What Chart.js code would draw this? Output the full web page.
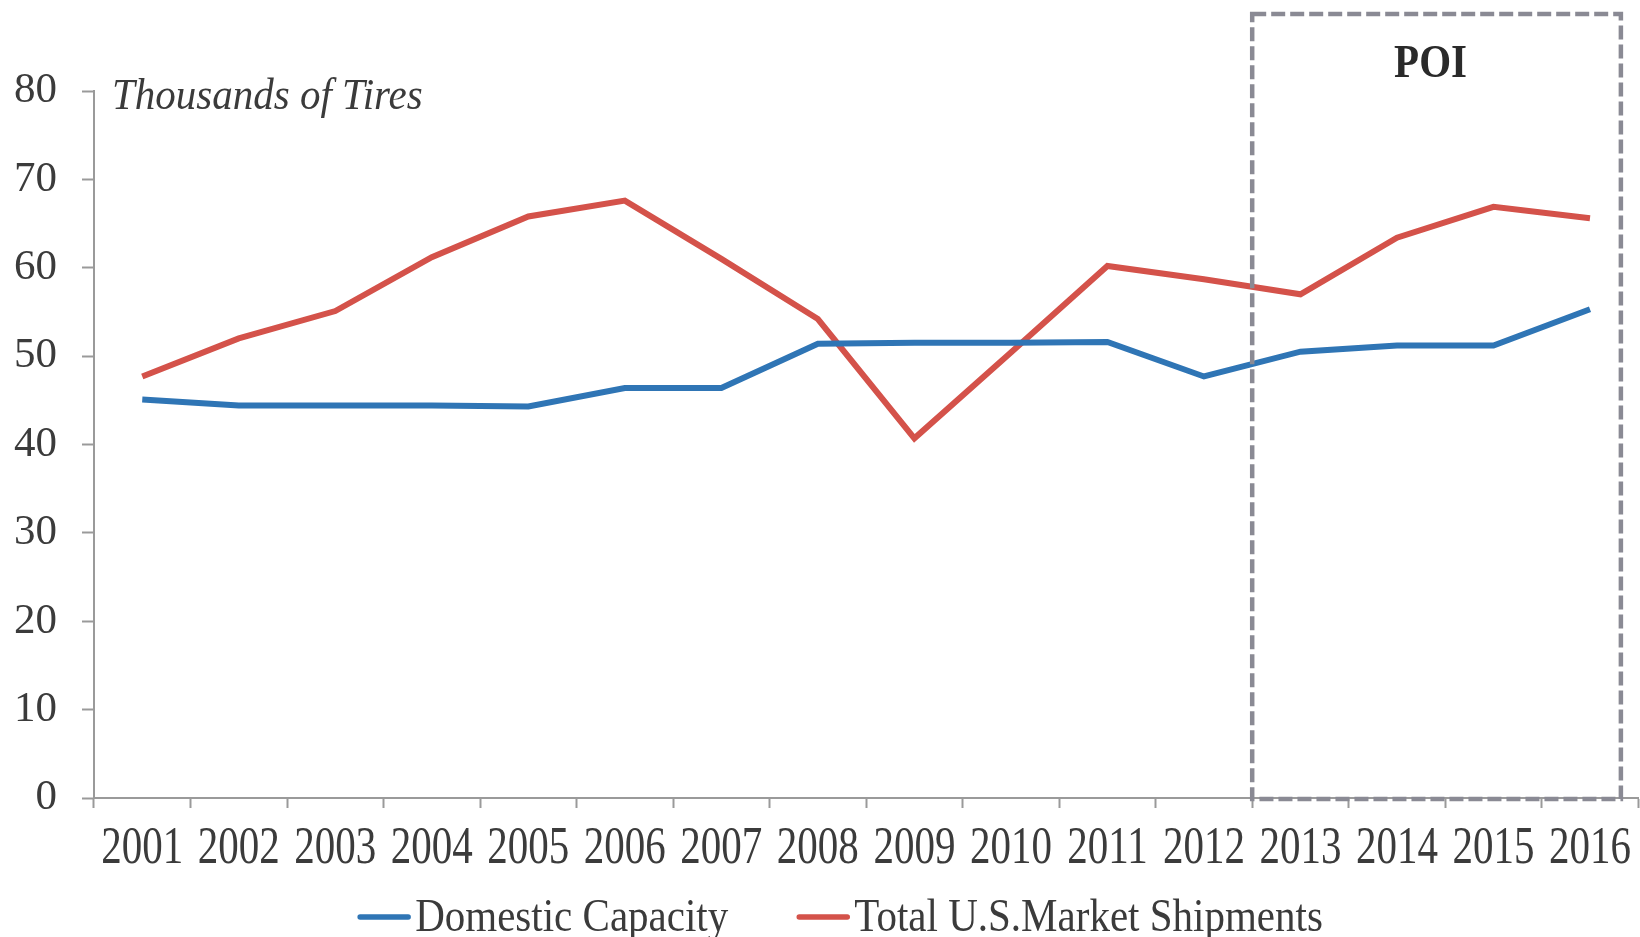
<!DOCTYPE html>
<html>
<head>
<meta charset="utf-8">
<title>Domestic Capacity vs Total U.S. Market Shipments</title>
<script src="https://cdn.jsdelivr.net/npm/chart.js@4.4.1/dist/chart.umd.min.js"></script>
<style>
  html, body { margin: 0; padding: 0; background: #ffffff; }
  #wrap { width: 1640px; height: 937px; }
</style>
</head>
<body>
<div id="wrap"><canvas id="chart" width="1640" height="937"></canvas></div>
<script>
// Years on the category axis
const years = ['2001','2002','2003','2004','2005','2006','2007','2008',
               '2009','2010','2011','2012','2013','2014','2015','2016'];

// Thousands of tires
const domesticCapacity = [45.1, 44.4, 44.4, 44.4, 44.3, 46.4, 46.4, 51.4,
                          51.5, 51.5, 51.6, 47.7, 50.5, 51.2, 51.2, 55.3];
const totalShipments   = [47.7, 52.0, 55.1, 61.2, 65.8, 67.6, 61.0, 54.2,
                          40.7, 50.4, 60.2, 58.7, 57.0, 63.4, 66.9, 65.6];

// Value axis ticks
const yTicks = [0, 10, 20, 30, 40, 50, 60, 70, 80];

// Period of investigation: from the 2012/2013 boundary to just short of the 2016 edge
const poiRange = { from: 11.5, to: 15.32, top: 88.7 };
const poiLabel = 'POI';
const unitLabel = 'Thousands of Tires';

const SERIF = '"Liberation Serif", "Times New Roman", serif';
const TEXT = '#3b3b3b';
const AXIS = '#9a9a9a';
const BLUE = '#2f75b5';
const RED = '#d4524a';

// Stretch the year labels vertically (taller, narrower serif figures)
const tallYearLabels = {
  id: 'tallYearLabels',
  beforeDraw(chart) {
    const s = chart.scales.x;
    if (!s || s._tall) return;
    const orig = s.drawLabels;
    s.drawLabels = function (area) {
      const items = this.getLabelItems(area);
      const cy = items.length ? items[0].options.translation[1] : 0;
      const ctx = this.ctx;
      ctx.save();
      ctx.translate(0, cy);
      ctx.scale(1, 1.3);
      ctx.translate(0, -cy);
      orig.call(this, area);
      ctx.restore();
    };
    s._tall = true;
  }
};

// Dashed POI frame, unit caption and a line-sample legend
const decorations = {
  id: 'decorations',
  afterDraw(chart) {
    const { ctx, scales: { x, y } } = chart;

    // Unit caption at the top of the value axis
    ctx.save();
    ctx.fillStyle = TEXT;
    ctx.font = 'italic 41px ' + SERIF;
    ctx.textBaseline = 'alphabetic';
    ctx.textAlign = 'left';
    ctx.translate(112, 109);
    ctx.scale(1, 1.1);
    ctx.fillText(unitLabel, 0, 0);
    ctx.restore();

    // POI frame
    const left = x.getPixelForValue(poiRange.from);
    const right = x.getPixelForValue(poiRange.to);
    const top = y.getPixelForValue(poiRange.top);
    const bottom = y.getPixelForValue(0) + 1;
    ctx.save();
    ctx.strokeStyle = '#8a8a94';
    ctx.lineWidth = 4.5;
    ctx.setLineDash([14, 5]);
    ctx.strokeRect(left, top, right - left, bottom - top);
    ctx.restore();

    // POI heading
    ctx.save();
    ctx.fillStyle = '#2a2a2a';
    ctx.font = 'bold 41px ' + SERIF;
    ctx.textAlign = 'center';
    ctx.textBaseline = 'middle';
    ctx.translate((left + right) / 2 - 6, top + 51);
    ctx.scale(1, 1.15);
    ctx.fillText(poiLabel, 0, 0);
    ctx.restore();

    // Legend: short thick line followed directly by the series name
    const sets = chart.data.datasets;
    const sample = 54, gapText = 4, gapItem = 68, cy = 919;
    ctx.save();
    ctx.font = '41px ' + SERIF;
    const widths = sets.map(d => sample + gapText + ctx.measureText(d.label).width);
    const total = widths.reduce((a, b) => a + b, 0) + gapItem * (sets.length - 1);
    let cx = 840 - total / 2;
    sets.forEach((d, i) => {
      ctx.strokeStyle = d.borderColor;
      ctx.lineWidth = 5.5;
      ctx.lineCap = 'round';
      ctx.beginPath();
      ctx.moveTo(cx + 3, cy - 2);
      ctx.lineTo(cx + sample - 3, cy - 2);
      ctx.stroke();
      ctx.save();
      ctx.fillStyle = TEXT;
      ctx.textAlign = 'left';
      ctx.textBaseline = 'middle';
      ctx.translate(cx + sample + gapText, cy);
      ctx.scale(1, 1.15);
      ctx.fillText(d.label, 0, 0);
      ctx.restore();
      cx += widths[i] + gapItem;
    });
    ctx.restore();
  }
};

new Chart(document.getElementById('chart'), {
  type: 'line',
  data: {
    labels: years,
    datasets: [
      {
        label: 'Domestic Capacity',
        data: domesticCapacity,
        borderColor: BLUE,
        backgroundColor: BLUE,
        borderWidth: 6,
        pointRadius: 0,
        tension: 0,
        fill: false
      },
      {
        label: 'Total U.S.Market Shipments',
        data: totalShipments,
        borderColor: RED,
        backgroundColor: RED,
        borderWidth: 6,
        pointRadius: 0,
        tension: 0,
        fill: false
      }
    ]
  },
  options: {
    responsive: false,
    animation: false,
    layout: { padding: { top: 91, right: 0, bottom: 0, left: 0 } },
    plugins: {
      legend: { display: false },
      tooltip: { enabled: false },
      title: { display: false }
    },
    scales: {
      x: {
        type: 'category',
        offset: true,
        grid: {
          offset: true,
          drawOnChartArea: false,
          drawTicks: true,
          tickLength: 10,
          tickColor: AXIS,
          tickWidth: 2
        },
        border: { display: true, color: AXIS, width: 2 },
        ticks: {
          color: TEXT,
          font: { family: SERIF, size: 41 },
          padding: 9,
          autoSkip: false,
          maxRotation: 0,
          minRotation: 0
        },
        afterFit(scale) { scale.height = 139; }
      },
      y: {
        min: 0,
        max: 80,
        afterBuildTicks(scale) { scale.ticks = yTicks.map(v => ({ value: v })); },
        grid: {
          drawOnChartArea: false,
          drawTicks: true,
          tickLength: 12,
          tickColor: AXIS,
          tickWidth: 2
        },
        border: { display: true, color: AXIS, width: 2 },
        ticks: {
          color: TEXT,
          font: { family: SERIF, size: 43 },
          padding: 25
        },
        afterFit(scale) { scale.width = 94; }
      }
    }
  },
  plugins: [tallYearLabels, decorations]
});
</script>
</body>
</html>
